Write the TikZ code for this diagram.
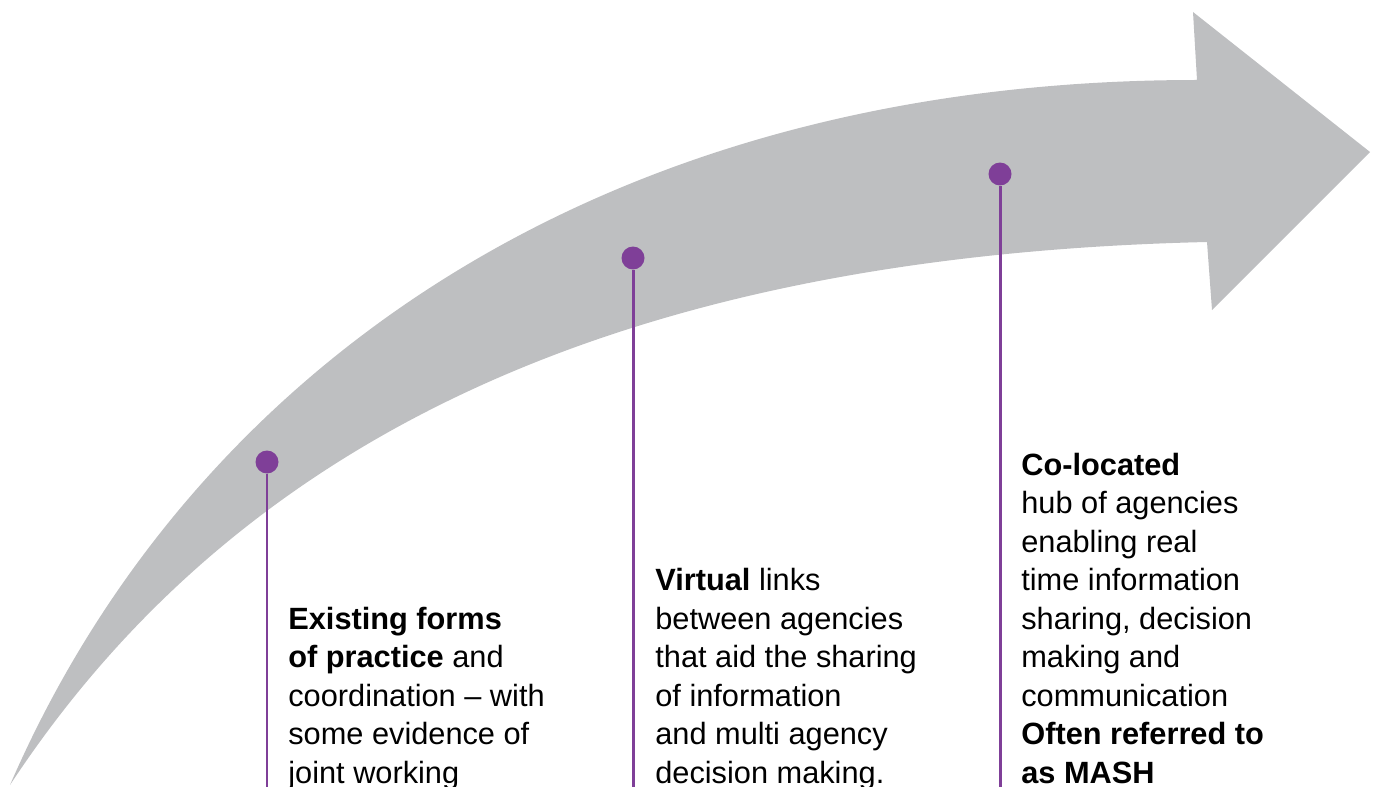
\documentclass[tikz,border=0pt]{standalone}
\usepackage{fontspec}
\setmainfont{Liberation Sans}
\definecolor{arrowgrey}{RGB}{190,191,193}
\definecolor{stagepurple}{RGB}{127,63,152}

\begin{document}
\begin{tikzpicture}[x=0.02cm, y=-0.02cm,
    stage/.style={circle, fill=stagepurple, inner sep=0pt, minimum size=0.46cm},
    stem/.style={draw=stagepurple, line width=1.7pt},
    label/.style={anchor=base west, inner sep=0pt, align=left,
                  font=\fontsize{17.5}{21.9}\selectfont}]
        \clip (0,0) rectangle (1376,787);

        % Draw arrow
        \fill[arrowgrey] (10,785) .. controls (190,370) and (600,80) .. (1197,80)
            -- (1193,12) -- (1370,152) -- (1212,310) -- (1207,242)
            .. controls (650,255) and (250,420) .. (10,785) -- cycle;

        % Draw nodes
        \node[stage] (s1) at (267,462) {};
        \node[stage] (s2) at (633,258) {};
        \node[stage] (s3) at (1000,174) {};

        \coordinate (e1) at (267,800);
        \coordinate (e2) at (633,800);
        \coordinate (e3) at (1000,800);

        % Draw connections
        \draw[stem] (s1) -- (e1);
        \draw[stem] (s2) -- (e2);
        \draw[stem] (s3) -- (e3);

        % Labels (base = last line)
        \node[label] (t1) at (288,783) {\textbf{Existing forms}\\\textbf{of practice} and\\coordination -- with\\some evidence of\\joint working};
        \node[label] (t2) at (655,783) {\textbf{Virtual} links\\between agencies\\that aid the sharing\\of information\\and multi agency\\decision making.};
        \node[label] (t3) at (1021,783) {\textbf{Co-located}\\hub of agencies\\enabling real\\time information\\sharing, decision\\making and\\communication\\\textbf{Often referred to}\\\textbf{as MASH}};
    \end{tikzpicture}
\end{document}
